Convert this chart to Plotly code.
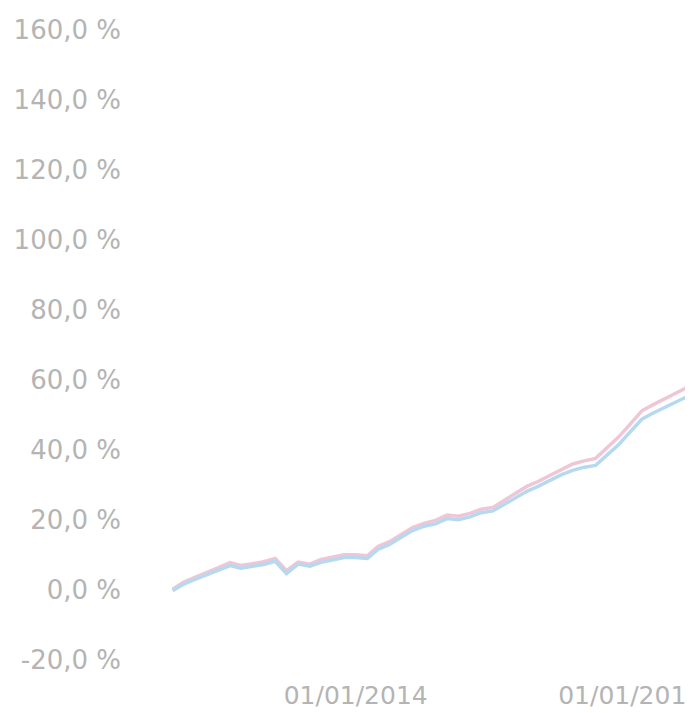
import plotly.graph_objects as go

dates = [
    "2012-09-01", "2012-10-01", "2012-11-01", "2012-12-01",
    "2013-01-01", "2013-02-01", "2013-03-01", "2013-04-01", "2013-05-01", "2013-06-01",
    "2013-07-01", "2013-08-01", "2013-09-01", "2013-10-01", "2013-11-01", "2013-12-01",
    "2014-01-01", "2014-02-01", "2014-03-01", "2014-04-01", "2014-05-01", "2014-06-01",
    "2014-07-01", "2014-08-01", "2014-09-01", "2014-10-01", "2014-11-01", "2014-12-01",
    "2015-01-01", "2015-02-01", "2015-03-01", "2015-04-01", "2015-05-01", "2015-06-01",
    "2015-07-01", "2015-08-01", "2015-09-01", "2015-10-01", "2015-11-01", "2015-12-01",
    "2016-01-01", "2016-02-01", "2016-03-01", "2016-04-01", "2016-05-01", "2016-06-01",
]

series_pink = [0.2, 2.3, 3.7, 4.9, 6.4, 7.8, 7.0, 7.5, 8.1, 9.0, 5.5, 8.0, 7.4, 8.7, 9.5, 10.1,
               10.1, 9.8, 12.4, 13.8, 15.8, 17.8, 19.0, 19.9, 21.4, 21.1, 21.9, 23.1,
               23.6, 25.7, 27.7, 29.6, 31.0, 32.7, 34.5, 36.0, 36.9, 37.6, 40.7, 43.7,
               47.4, 51.2, 52.9, 54.7, 56.2, 57.9]

series_blue = [-0.2, 1.7, 3.1, 4.3, 5.6, 7.0, 6.2, 6.7, 7.3, 8.2, 4.7, 7.4, 6.8, 7.9, 8.7, 9.3,
               9.3, 9.0, 11.6, 13.0, 15.0, 17.0, 18.2, 18.9, 20.4, 20.1, 20.9, 22.1,
               22.6, 24.5, 26.5, 28.2, 29.6, 31.3, 32.9, 34.2, 35.1, 35.6, 38.7, 41.5,
               45.2, 48.8, 50.5, 52.1, 53.6, 55.3]

y_ticks = [-20, 0, 20, 40, 60, 80, 100, 120, 140, 160]
y_tick_labels = ["-20,0 %", "0,0 %", "20,0 %", "40,0 %", "60,0 %", "80,0 %",
                 "100,0 %", "120,0 %", "140,0 %", "160,0 %"]

fig = go.Figure()
fig.add_trace(go.Scatter(x=dates, y=series_pink, mode="lines",
                         line=dict(color="#efc6d6", width=3.5), showlegend=False))
fig.add_trace(go.Scatter(x=dates, y=series_blue, mode="lines",
                         line=dict(color="#b5d9f0", width=3.5), showlegend=False))

fig.update_layout(
    width=693, height=713,
    margin=dict(l=142, r=8, t=22, b=61, autoexpand=False),
    paper_bgcolor="white", plot_bgcolor="white",
    font=dict(family="DejaVu Sans", color="#b4b4b4", size=24),
)
fig.update_xaxes(
    type="date",
    range=["2012-07-03", "2016-06-16"],
    tick0="2014-01-01", dtick="M24", tickformat="%d/%m/%Y",
    showgrid=False, zeroline=False, showline=False, ticks="",
    ticklabelstandoff=18, ticklabeloverflow="allow", automargin=False,
    tickfont=dict(size=25, color="#b4b4b4", family="DejaVu Sans"),
)
fig.update_yaxes(
    range=[-20, 160],
    tickvals=y_ticks, ticktext=y_tick_labels,
    showgrid=False, zeroline=False, showline=False, ticks="",
    ticklabelstandoff=28, automargin=False,
    tickfont=dict(size=26, color="#b4b4b4", family="DejaVu Sans"),
)

fig.write_html("out.html")
